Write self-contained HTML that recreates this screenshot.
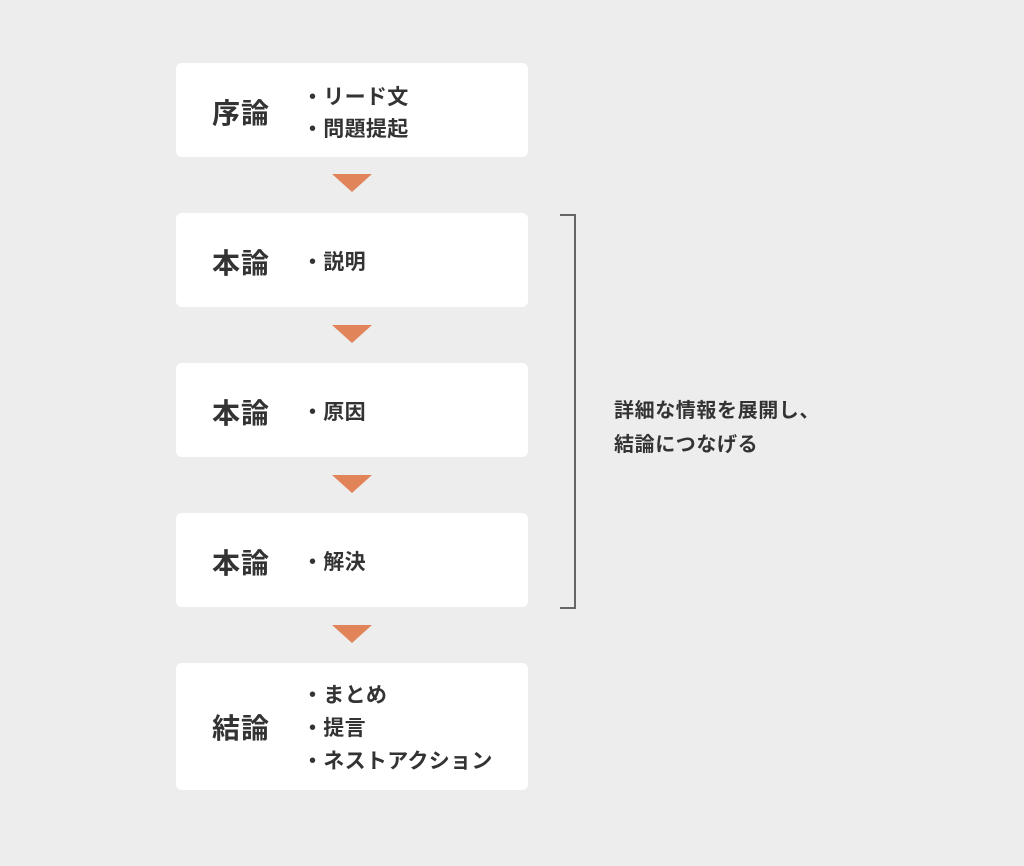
<!DOCTYPE html>
<html><head><meta charset="utf-8"><style>
body{margin:0;width:1024px;height:866px;background:#ededed;position:relative;font-family:"Liberation Sans","Noto Sans CJK JP",sans-serif;font-weight:bold;color:#333;overflow:hidden}
.b{position:absolute;left:176px;width:352px;background:#fff;border-radius:6px}
.t{position:absolute;left:36px;font-size:28px;line-height:28px;letter-spacing:1px}
.l{position:absolute;left:126px;font-size:21px;line-height:32px;white-space:nowrap;letter-spacing:0.3px}
.tri{position:absolute;left:332px;width:0;height:0;border-left:20px solid transparent;border-right:20px solid transparent;border-top:18px solid #e2845a}
.r{position:absolute;left:614px;font-size:20px;line-height:34px;letter-spacing:0.6px}
</style></head><body>
<div class="b" style="top:63px;height:94px"><div class="t" style="top:37px">序論</div><div class="l" style="top:19px">・リード文<br>・問題提起</div></div>
<div class="tri" style="top:174px"></div>
<div class="b" style="top:213px;height:94px"><div class="t" style="top:37px">本論</div><div class="l" style="top:34px">・説明</div></div>
<div class="tri" style="top:325px"></div>
<div class="b" style="top:363px;height:94px"><div class="t" style="top:37px">本論</div><div class="l" style="top:34px">・原因</div></div>
<div class="tri" style="top:475px"></div>
<div class="b" style="top:513px;height:94px"><div class="t" style="top:37px">本論</div><div class="l" style="top:34px">・解決</div></div>
<div class="tri" style="top:625px"></div>
<div class="b" style="top:663px;height:127px"><div class="t" style="top:52px">結論</div><div class="l" style="top:16px;line-height:33px">・まとめ<br>・提言<br>・ネストアクション</div></div>
<div style="position:absolute;left:560px;top:214px;width:14px;height:391px;border:2px solid #666;border-left:none"></div>
<div class="r" style="top:394px">詳細な情報を展開し、<br>結論につなげる</div>
</body></html>
